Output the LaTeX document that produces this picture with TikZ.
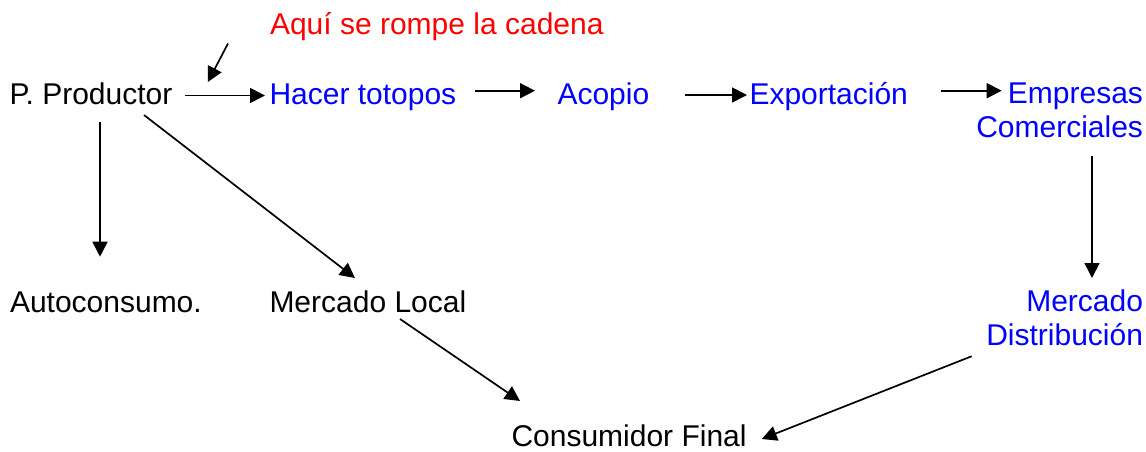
\documentclass[tikz,border=0pt]{standalone}
\usepackage{fontspec}
\setmainfont{Liberation Sans}
\usetikzlibrary{arrows.meta}
\definecolor{azul}{RGB}{0,0,255}
\definecolor{rojo}{RGB}{255,0,0}
\begin{document}
\begin{tikzpicture}[x=1pt,y=-1pt,
  txt/.style={inner sep=0pt,outer sep=0pt,font=\fontsize{30pt}{34pt}\selectfont},
  blu/.style={txt,text=azul},
  arr/.style={line width=1.7pt,-{Triangle[length=15pt,width=15pt]}}]
\useasboundingbox[fill=white] (0,0) rectangle (1146,451);
% nodes
\node[txt,anchor=base west] (prod) at (9.5,104) {P. Productor};
\node[txt,text=rojo,anchor=base west] (aqui) at (270,34.5) {Aquí se rompe la cadena};
\node[blu,anchor=base west] (hacer) at (269.5,104) {Hacer totopos};
\node[blu,anchor=base west] (acopio) at (557.5,104) {Acopio};
\node[blu,anchor=base west] (export) at (749.5,104) {Exportación};
\node[blu,align=right,anchor=north east] (emp) at (1143,83) {Empresas\\Comerciales};
\node[txt,anchor=base west] (auto) at (10,312) {Autoconsumo.};
\node[txt,anchor=base west] (local) at (269.5,312) {Mercado Local};
\node[blu,align=right,anchor=north east] (mdist) at (1143,290) {Mercado\\Distribución};
\node[txt,anchor=base west] (cons) at (511.5,446.5) {Consumidor Final};
\coordinate (rotura) at ([shift={(35.5,-22)}]prod.base east);
% connectors
\draw[arr] ([shift={(12.5,-8.5)}]prod.base east) -- ([shift={(-4.5,-8.5)}]hacer.base west);
\draw[arr] ([shift={(-42,9)}]aqui.base west) -- (rotura);
\draw[arr] ([shift={(18.5,-13.3)}]hacer.base east) -- ([shift={(-22.5,-13.3)}]acopio.base west);
\draw[arr] ([shift={(35.5,-9)}]acopio.base east) -- ([shift={(-2.5,-9)}]export.base west);
\draw[arr] ([shift={(33.1,-13.3)}]export.base east) -- ([shift={(25.4,7.7)}]emp.north west);
\draw[arr] ([shift={(-51,18.2)}]emp.south east) -- ([shift={(-51,-12)}]mdist.north east);
\draw[arr] ([shift={(90.5,17.7)}]prod.base west) -- ([shift={(90,-55.3)}]auto.base west);
\draw[arr] ([shift={(134.5,11)}]prod.base west) -- ([shift={(85.5,-34)}]local.base west);
\draw[arr] ([shift={(130.5,7)}]local.base west) -- ([shift={(8.5,-45.5)}]cons.base west);
\draw[arr] ([shift={(-14.6,10.2)}]mdist.south west) -- ([shift={(15.2,-7.5)}]cons.base east);
\end{tikzpicture}
\end{document}
